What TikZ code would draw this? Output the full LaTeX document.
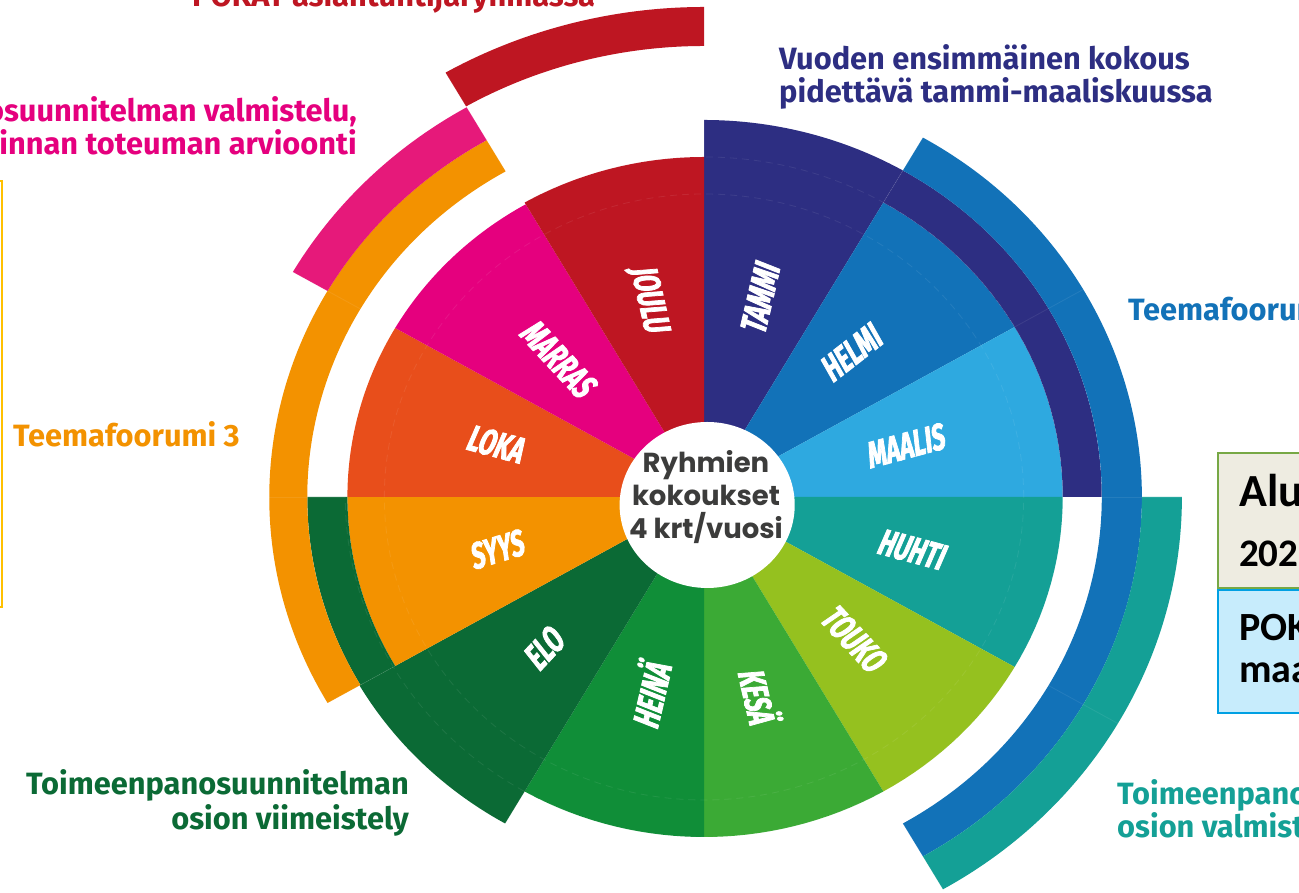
\documentclass[tikz,border=0pt]{standalone}
\usepackage{fontspec}
\setmainfont{Fira Sans}
\newfontfamily\labfont{Fira Sans}[FakeStretch=0.64,FakeSlant=0.15,FakeBold=2]
\newfontfamily\centfont{Poppins}
\newfontfamily\boxfont{Carlito}
\definecolor{cJoulu}{HTML}{BE1622}
\definecolor{cMarras}{HTML}{E5007E}
\definecolor{cLoka}{HTML}{E84E1B}
\definecolor{cSyys}{HTML}{F39200}
\definecolor{cElo}{HTML}{0B6A35}
\definecolor{cHeina}{HTML}{108E38}
\definecolor{cKesa}{HTML}{3BAA35}
\definecolor{cTouko}{HTML}{95C11F}
\definecolor{cHuhti}{HTML}{14A096}
\definecolor{cMaalis}{HTML}{2EA9E0}
\definecolor{cHelmi}{HTML}{1272B8}
\definecolor{cTammi}{HTML}{2D2E82}
\definecolor{cPink}{HTML}{E6197A}
\definecolor{cText}{HTML}{3C3C3B}
\definecolor{cBoxA}{HTML}{EEECE1}
\definecolor{cBoxAb}{HTML}{77A845}
\definecolor{cBoxB}{HTML}{C7ECFC}
\definecolor{cBoxBb}{HTML}{00A0E3}
\definecolor{cGold}{HTML}{FFC000}
\newcommand\wedgeseg[4]{\fill[#1] (0,0) -- (#2:#4) arc[start angle=#2,end angle=#3,radius=#4] -- cycle;}
\newcommand\ringseg[5]{\fill[#1] (#2:#4) arc[start angle=#2,end angle=#3,radius=#4] -- (#3:#5) arc[start angle=#3,end angle=#2,radius=#5] -- cycle;}
\tikzset{
  monthlab/.style={text=white,font=\labfont\bfseries\fontsize{37}{37}\selectfont,inner sep=0pt},
  sidelab/.style={font=\bfseries\fontsize{30.8}{34}\selectfont,inner sep=0pt},
  boxlab/.style={font=\boxfont\bfseries,inner sep=0pt,text=black},
  faint/.style={white,opacity=0.08,line width=0.8pt}
}
\begin{document}
\begin{tikzpicture}[x=1pt,y=1pt]
\useasboundingbox (0,0) rectangle (1299,893);
\begin{scope}
\clip (0,0) rectangle (1299,893);
\fill[white] (0,0) rectangle (1299,893);
% wheel
\begin{scope}[shift={(704,396)},xscale=1.055]
\wedgeseg{cTammi}{60}{90}{377}
\wedgeseg{cHelmi}{30}{60}{340}
\wedgeseg{cMaalis}{0}{30}{340}
\wedgeseg{cHuhti}{-30}{0}{340}
\wedgeseg{cTouko}{-60}{-30}{340}
\wedgeseg{cKesa}{-90}{-60}{340}
\wedgeseg{cHeina}{-120}{-90}{340}
\wedgeseg{cElo}{-150}{-120}{377}
\wedgeseg{cSyys}{-180}{-150}{338}
\wedgeseg{cLoka}{150}{180}{338}
\wedgeseg{cMarras}{120}{150}{338}
\wedgeseg{cJoulu}{90}{120}{340}
\ringseg{cTammi}{0}{60}{340}{377}
\ringseg{cElo}{180}{210}{338}{376}
\ringseg{cHelmi}{-60}{60}{377}{415}
\ringseg{cHuhti}{-60}{0}{415}{453}
\ringseg{cSyys}{120}{210}{376}{412}
\ringseg{cPink}{120}{150}{412}{450}
\ringseg{cJoulu}{90}{120}{451}{490}
% faint guide lines
\draw[faint,dash pattern=on 7pt off 5pt] (0,0) circle[radius=303];
\draw[faint,dash pattern=on 7pt off 5pt] (0,0) circle[radius=340];
\foreach \a in {0,30,...,330} \draw[faint] (\a:340) -- (\a:490);
% centre
\fill[white] (3,-8) circle[radius=83];
\node[monthlab,rotate=77] (tammi) at (75:205) {TAMMI};
\node[monthlab,rotate=38] (helmi) at (46:200) {HELMI};
\node[monthlab,rotate=15] (maalis) at (15:197) {MAALIS};
\node[monthlab,rotate=-15] (huhti) at (-15:203) {HUHTI};
\node[monthlab,rotate=-47] (touko) at (-45:200) {TOUKO};
\node[monthlab,rotate=-77] (kesa) at (-75:205) {KESÄ};
\node[monthlab,rotate=77] (heina) at (-105:205) {HEINÄ};
\node[monthlab,rotate=47] (elo) at (-135:215) {ELO};
\node[monthlab,rotate=17] (syys) at (-165:204) {SYYS};
\node[monthlab,rotate=-15] (loka) at (165:205) {LOKA};
\node[monthlab,rotate=-47] (marras) at (135:196) {MARRAS};
\node[monthlab,rotate=-77] (joulu) at (105:205) {JOULU};
\end{scope}
\node[font=\centfont\bfseries\fontsize{27.5}{33}\selectfont,text=cText,align=center,inner sep=0pt] (centre) at (706,396) {Ryhmien\\kokoukset\\4 krt/vuosi};
% side labels
\node[sidelab,text=cJoulu,anchor=base west] (pokat) at (192,886) {POKAT asiantuntijaryhmässä};
\node[sidelab,text=cMarras,anchor=base east] (valm1) at (357,771) {Toimeenpanosuunnitelman valmistelu,};
\node[sidelab,text=cMarras,anchor=base east] (valm2) at (357,738) {toiminnan toteuman arvioonti};
\node[sidelab,text=cTammi,anchor=base west] (vuo1) at (779,823) {Vuoden ensimmäinen kokous};
\node[sidelab,text=cTammi,anchor=base west] (vuo2) at (779,790) {pidettävä tammi-maaliskuussa};
\node[sidelab,text=cHelmi,anchor=base west] (tf2) at (1128,572) {Teemafoorumi 2};
\node[sidelab,text=cSyys,anchor=base west] (tf3) at (13,446) {Teemafoorumi 3};
\node[sidelab,text=cElo,anchor=base east] (viim1) at (409,98) {Toimeenpanosuunnitelman};
\node[sidelab,text=cElo,anchor=base east] (viim2) at (409,63) {osion viimeistely};
\node[sidelab,text=cHuhti,anchor=base west] (osv1) at (1117,88) {Toimeenpanosuunnitelman};
\node[sidelab,text=cHuhti,anchor=base west] (osv2) at (1117,55) {osion valmistelu};
% boxes
\draw[cGold,line width=1.5pt] (-10,712) rectangle (2,286);
\draw[cBoxAb,fill=cBoxA,line width=1.5pt] (1218,440) rectangle (1320,305);
\draw[cBoxBb,fill=cBoxB,line width=1.5pt] (1218,303) rectangle (1320,180);
\node[boxlab,anchor=base west,font=\boxfont\bfseries\fontsize{46}{46}\selectfont] (alu) at (1239,386) {Aluehallitus};
\node[boxlab,anchor=base west,font=\boxfont\bfseries\fontsize{39}{39}\selectfont] (vuosi) at (1239,326) {2023};
\node[boxlab,anchor=base west,font=\boxfont\bfseries\fontsize{40}{40}\selectfont] (pok) at (1239,252) {POKAT};
\node[boxlab,anchor=base west,font=\boxfont\bfseries\fontsize{40}{40}\selectfont] (maa) at (1239,210) {maakunta};
\end{scope}
\end{tikzpicture}
\end{document}
